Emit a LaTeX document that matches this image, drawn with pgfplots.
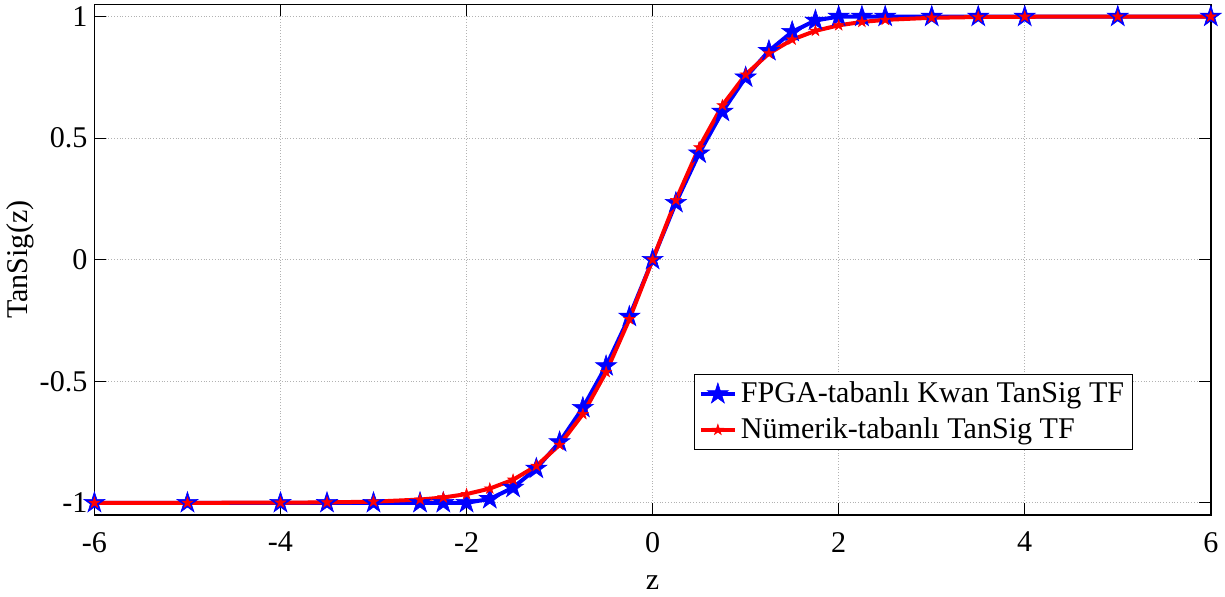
\documentclass[border=0pt]{standalone}
\usepackage{pgfplots}
\pgfplotsset{compat=1.18}
\usepackage{fontspec}
\setmainfont{Liberation Serif}
\pgfdeclareplotmark{pentagram}{%
  \pgfpathmoveto{\pgfpointpolar{90}{\pgfplotmarksize}}%
  \pgfpathlineto{\pgfpointpolar{126}{0.382\pgfplotmarksize}}%
  \pgfpathlineto{\pgfpointpolar{162}{\pgfplotmarksize}}%
  \pgfpathlineto{\pgfpointpolar{198}{0.382\pgfplotmarksize}}%
  \pgfpathlineto{\pgfpointpolar{234}{\pgfplotmarksize}}%
  \pgfpathlineto{\pgfpointpolar{270}{0.382\pgfplotmarksize}}%
  \pgfpathlineto{\pgfpointpolar{306}{\pgfplotmarksize}}%
  \pgfpathlineto{\pgfpointpolar{342}{0.382\pgfplotmarksize}}%
  \pgfpathlineto{\pgfpointpolar{18}{\pgfplotmarksize}}%
  \pgfpathlineto{\pgfpointpolar{54}{0.382\pgfplotmarksize}}%
  \pgfpathclose
  \pgfusepathqfillstroke}
\pgfplotstableread{
x y
-6 -1
-5 -1
-4 -1
-3.5 -1
-3 -1
-2.5 -1
-2.25 -1
-2 -1
-1.75 -0.984
-1.5 -0.9375
-1.25 -0.859
-1 -0.75
-0.75 -0.609
-0.5 -0.4375
-0.25 -0.234
0 0
0.25 0.234
0.5 0.4375
0.75 0.609
1 0.75
1.25 0.859
1.5 0.9375
1.75 0.984
2 1
2.25 1
2.5 1
3 1
3.5 1
4 1
5 1
6 1
}\kwan
\pgfplotstableread{
x y
-6 -1.0000
-5 -0.9999
-4 -0.9993
-3.5 -0.9982
-3 -0.9951
-2.5 -0.9866
-2.25 -0.9780
-2 -0.9640
-1.75 -0.9414
-1.5 -0.9051
-1.25 -0.8483
-1 -0.7616
-0.75 -0.6351
-0.5 -0.4621
-0.25 -0.2449
0 0
0.25 0.2449
0.5 0.4621
0.75 0.6351
1 0.7616
1.25 0.8483
1.5 0.9051
1.75 0.9414
2 0.9640
2.25 0.9780
2.5 0.9866
3 0.9951
3.5 0.9982
4 0.9993
5 0.9999
6 1.0000
}\numerik
\begin{document}
\begin{tikzpicture}[font=\fontsize{15bp}{18bp}\selectfont]
\begin{axis}[
  scale only axis,
  width=556.5bp, height=254.5bp,
  xmin=-6, xmax=6, ymin=-1.05, ymax=1.05,
  xtick={-6,-4,-2,0,2,4,6},
  ytick={-1,-0.5,0,0.5,1},
  /pgf/number format/assume math mode=true,
  tick align=inside,
  major tick length=6bp,
  tick style={black, line width=0.6bp},
  axis line style={black, line width=0.7bp},
  grid=major,
  major grid style={densely dotted, gray!60, line width=0.4bp},
  xticklabel style={yshift=-5bp},
  xlabel={z}, ylabel={TanSig(z)},
  xlabel style={yshift=-5bp},
  ylabel style={yshift=-4bp},
  legend style={at={(0.930,0.277)}, anchor=north east, draw=black, line width=0.5bp,
    fill=white, cells={anchor=west}, row sep=2bp, inner sep=2bp,
    font=\fontsize{15bp}{18bp}\selectfont},
  legend image post style={line width=2bp},
]
\addplot[color=blue, line width=2bp, mark=pentagram, mark size=5.5bp,
  mark options={fill=blue, draw=blue, line width=0.3bp}] table {\kwan};
\addlegendentry{FPGA-tabanlı Kwan TanSig TF}
\addplot[color=red, line width=2bp, mark=pentagram, mark size=2.8bp,
  mark options={fill=red, draw=red, line width=0.3bp}] table {\numerik};
\addlegendentry{Nümerik-tabanlı TanSig TF}
\end{axis}
\end{tikzpicture}
\end{document}
